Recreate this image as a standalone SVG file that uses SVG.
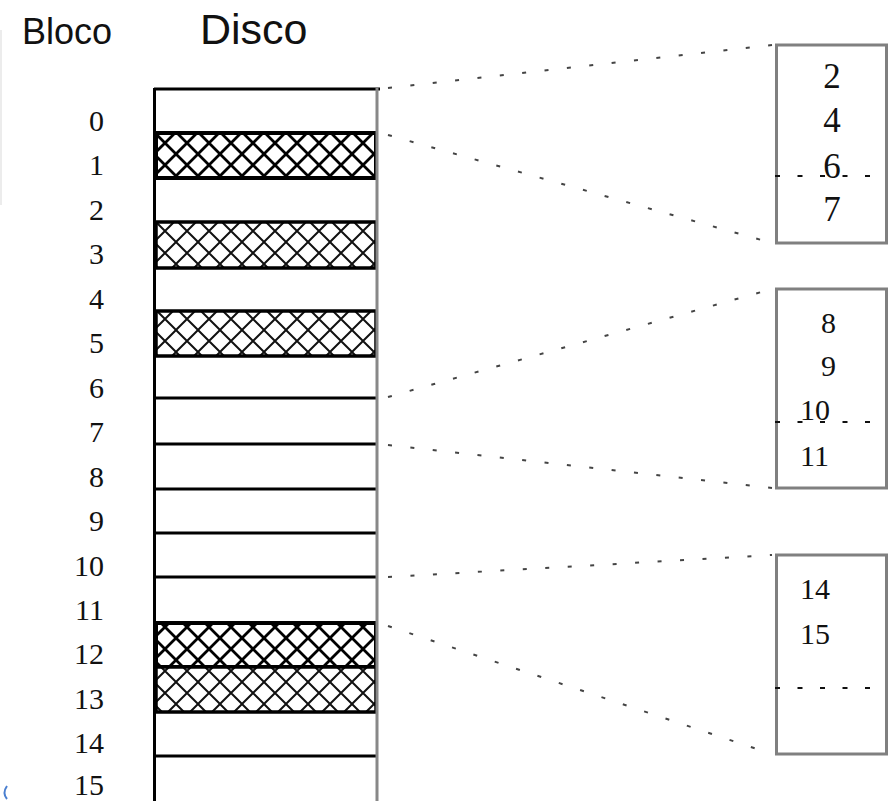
<svg xmlns="http://www.w3.org/2000/svg" width="888" height="801" viewBox="0 0 888 801">
  <style>
    .lbl { font-family: "Liberation Serif", "Times New Roman", serif; font-size: 30px; fill: #111; }
    .bx { font-family: "Liberation Serif", "Times New Roman", serif; font-size: 30px; fill: #111; }
    .bx1 { font-size: 35px; }
    .hdr { font-family: "Liberation Sans", Arial, sans-serif; fill: #111; }
    .sep { stroke: #000; stroke-width: 3; }
    .box { fill: #fff; stroke: #808080; stroke-width: 3; }
    .conn { fill: none; stroke: #444; stroke-width: 2; stroke-dasharray: 4 18.5; }
    .inner { stroke: #111; stroke-width: 1.8; stroke-dasharray: 5 17.5; }
    .hatchD { fill: url(#hatchDark); stroke: #000; stroke-width: 4; }
    .hatchL { fill: url(#hatchLight); stroke: #000; stroke-width: 3.5; }
  </style>
  <defs>
    <pattern id="hatchDark" patternUnits="userSpaceOnUse" width="22" height="22" x="154" y="132">
      <rect width="22" height="22" fill="#fff"/>
      <path d="M-3,-3 L25,25 M25,-3 L-3,25" stroke="#000" stroke-width="2.8"/>
    </pattern>
    <pattern id="hatchLight" patternUnits="userSpaceOnUse" width="22" height="22" x="154" y="132">
      <rect width="22" height="22" fill="#fff"/>
      <path d="M-3,-3 L25,25 M25,-3 L-3,25" stroke="#111" stroke-width="2"/>
    </pattern>
  </defs>
  <rect width="888" height="801" fill="#fff"/>
  <line x1="1" y1="30" x2="1" y2="205" stroke="#ececec" stroke-width="2"/>

  <g id="headers">
    <text class="hdr" x="22" y="44" font-size="36" fill="#222">Bloco</text>
    <text class="hdr" x="200" y="44" font-size="43">Disco</text>
  </g>

  <g id="disk">
    <rect x="154" y="89" width="222" height="714" fill="#fff" stroke="none"/>
    <line x1="154" y1="89" x2="380" y2="89" class="sep"/>
    <rect id="block1" x="156" y="133" width="220" height="45" class="hatchD"/>
    <rect id="block3" x="156" y="222" width="220" height="46" class="hatchL"/>
    <rect id="block5" x="156" y="311" width="220" height="45" class="hatchL"/>
    <rect id="block12" x="156" y="623" width="220" height="44" class="hatchD"/>
    <rect id="block13" x="156" y="667" width="220" height="45" class="hatchL"/>
    <line x1="154" y1="398" x2="378" y2="398" class="sep"/>
    <line x1="154" y1="444" x2="378" y2="444" class="sep"/>
    <line x1="154" y1="489" x2="378" y2="489" class="sep"/>
    <line x1="154" y1="533" x2="378" y2="533" class="sep"/>
    <line x1="154" y1="577" x2="378" y2="577" class="sep"/>
    <line x1="154" y1="756" x2="378" y2="756" class="sep"/>
    <line x1="154.5" y1="88" x2="154.5" y2="801" stroke="#000" stroke-width="3"/>
    <line x1="377" y1="88" x2="377" y2="801" stroke="#888" stroke-width="3"/>
  </g>

  <g id="block-labels" text-anchor="end">
    <text class="lbl" x="104" y="131">0</text>
    <text class="lbl" x="104" y="175">1</text>
    <text class="lbl" x="104" y="220">2</text>
    <text class="lbl" x="104" y="264">3</text>
    <text class="lbl" x="104" y="309">4</text>
    <text class="lbl" x="104" y="353">5</text>
    <text class="lbl" x="104" y="398">6</text>
    <text class="lbl" x="104" y="442">7</text>
    <text class="lbl" x="104" y="487">8</text>
    <text class="lbl" x="104" y="531">9</text>
    <text class="lbl" x="104" y="576">10</text>
    <text class="lbl" x="104" y="620">11</text>
    <text class="lbl" x="104" y="664">12</text>
    <text class="lbl" x="104" y="709">13</text>
    <text class="lbl" x="104" y="753">14</text>
    <text class="lbl" x="104" y="795">15</text>
  </g>

  <g id="connectors">
    <line class="conn" x1="388" y1="88" x2="772" y2="45"/>
    <line class="conn" x1="388" y1="135" x2="772" y2="243"/>
    <line class="conn" x1="388" y1="397" x2="772" y2="289"/>
    <line class="conn" x1="388" y1="445" x2="772" y2="488"/>
    <line class="conn" x1="388" y1="577" x2="772" y2="555"/>
    <line class="conn" x1="388" y1="626" x2="772" y2="754"/>
  </g>

  <g id="buffer1">
    <rect class="box" x="776.5" y="45" width="110" height="198"/>
    <line class="inner" x1="775" y1="176" x2="880" y2="176"/>
    <g text-anchor="middle">
      <text class="bx bx1" x="832" y="88">2</text>
      <text class="bx bx1" x="832" y="132">4</text>
      <text class="bx bx1" x="832" y="178">6</text>
      <text class="bx bx1" x="832" y="221">7</text>
    </g>
  </g>

  <g id="buffer2">
    <rect class="box" x="776.5" y="289" width="110" height="199"/>
    <line class="inner" x1="775" y1="422" x2="880" y2="422"/>
    <text class="bx" x="821" y="333">8</text>
    <text class="bx" x="821" y="376">9</text>
    <text class="bx" x="800" y="420">10</text>
    <text class="bx" x="800" y="466">11</text>
  </g>

  <g id="buffer3">
    <rect class="box" x="776.5" y="555" width="110" height="199"/>
    <line class="inner" x1="775" y1="688" x2="880" y2="688"/>
    <text class="bx" x="800" y="599">14</text>
    <text class="bx" x="800" y="644">15</text>
  </g>

  <path d="M7,786 Q2,793 7,799" fill="none" stroke="#4a7fd0" stroke-width="2"/>
</svg>
